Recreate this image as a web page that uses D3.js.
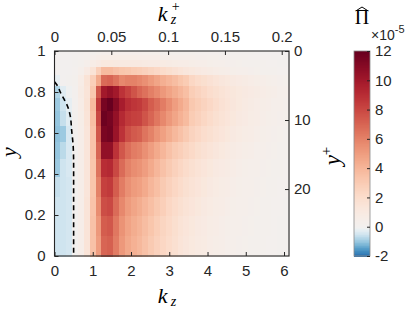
<!DOCTYPE html>
<html><head><meta charset="utf-8">
<script src="https://cdn.jsdelivr.net/npm/d3@7"></script>
<style>body{margin:0;background:#fff}</style>
</head><body><svg id="c" width="415" height="312"></svg>
<script>
// ---- data ----
const kzMax = 6.13;          // right edge of kz grid
const nKz = 40;              // number of kz cells
const reTau = 29.7;          // y+ = (1-y)*reTau, kz+ = kz/reTau
const yEdges = [1,0.995,0.981,0.957,0.924,0.882,0.831,0.773,0.707,0.634,0.556,0.471,0.383,0.290,0.195,0.098,0];
// rows from top (y=1) to bottom (y=0), columns kz from 0 to kzMax; units 1e-5
const values = [
[0,0,0,0,0,0.05,0.1,0.1,0.1,0.1,0.1,0.1,0.1,0.1,0.1,0.1,0.1,0.1,0.1,0.1,0.05,0.05,0.05,0.05,0.05,0.05,0.05,0.05,0.05,0.05,0,0,0,0,0,0,0,0,0,0],
[0,0,0,0,0.05,0.1,0.2,0.25,0.3,0.3,0.3,0.3,0.3,0.3,0.3,0.25,0.25,0.25,0.2,0.2,0.2,0.15,0.15,0.15,0.1,0.1,0.1,0.1,0.05,0.05,0.05,0.05,0.05,0.05,0,0,0,0,0,0],
[0,0,0,0.05,0.1,0.2,0.4,0.55,0.6,0.6,0.6,0.6,0.6,0.6,0.55,0.55,0.5,0.5,0.45,0.45,0.4,0.4,0.35,0.35,0.3,0.3,0.25,0.25,0.2,0.2,0.15,0.15,0.15,0.1,0.1,0.1,0.1,0.05,0.05,0.05],
[0,0,0,0.05,0.15,0.35,0.65,0.9,1.1,1.1,1.05,1.0,1.0,1.0,1.0,0.95,0.9,0.9,0.85,0.8,0.75,0.7,0.65,0.6,0.55,0.5,0.45,0.4,0.35,0.3,0.3,0.25,0.2,0.2,0.15,0.15,0.1,0.1,0.05,0.05],
[0,0,0.02,0.1,0.4,0.9,1.6,2.8,3.8,3.8,3.5,3.3,3.2,3.0,2.9,2.7,2.5,2.3,2.1,1.9,1.7,1.5,1.3,1.15,1.0,0.9,0.8,0.7,0.6,0.5,0.45,0.4,0.35,0.3,0.25,0.2,0.2,0.15,0.1,0.1],
[-0.2,0,0.05,0.2,0.7,1.6,2.8,4.5,6.8,7.0,6.5,5.8,6.0,6.0,5.8,5.5,5.1,4.7,4.3,4.0,3.7,3.3,3.0,2.4,2.1,1.9,1.7,1.5,1.3,1.15,1.0,0.9,0.8,0.7,0.6,0.5,0.45,0.4,0.3,0.25],
[-0.8,-0.3,-0.05,0.1,0.8,1.5,3.2,7.5,10.0,10.5,10.0,8.8,8.2,7.6,7.0,6.6,6.1,5.7,5.2,4.8,4.4,4.0,3.6,2.9,2.6,2.3,2.0,1.8,1.6,1.4,1.25,1.1,1.0,0.9,0.8,0.7,0.6,0.5,0.4,0.35],
[-0.95,-0.5,-0.2,0.1,0.7,1.6,3.8,8.5,11.5,12.0,11.0,9.8,9.0,8.7,8.5,8.0,7.3,6.8,6.2,5.6,5.0,4.5,4.0,3.2,2.9,2.6,2.3,2.0,1.7,1.5,1.3,1.1,0.95,0.8,0.7,0.6,0.5,0.4,0.35,0.3],
[-1.0,-0.6,-0.3,0.05,0.6,1.5,3.6,8.0,11.8,11.5,10.5,9.2,8.5,8.3,8.2,7.6,7.0,6.4,5.8,5.2,4.7,4.2,3.8,3.0,2.7,2.4,2.1,1.8,1.6,1.4,1.2,1.0,0.9,0.75,0.65,0.55,0.45,0.4,0.3,0.25],
[-1.05,-0.95,-0.4,0.05,0.5,1.4,3.4,7.5,11.4,11.6,10.3,8.8,7.8,7.4,7.2,6.5,6.0,5.4,4.9,4.4,3.9,3.5,3.1,2.6,2.3,2.0,1.8,1.6,1.4,1.2,1.0,0.85,0.75,0.65,0.55,0.45,0.4,0.3,0.25,0.2],
[-1.0,-0.7,-0.4,0.05,0.5,1.4,3.4,7.0,10.6,10.6,8.8,7.5,6.7,6.2,6.0,5.5,5.0,4.5,4.0,3.5,3.1,2.8,2.5,2.2,1.9,1.7,1.5,1.3,1.1,0.95,0.8,0.7,0.6,0.5,0.4,0.35,0.3,0.25,0.2,0.15],
[-0.95,-0.5,-0.4,0.05,0.5,1.4,3.3,6.5,9.0,9.2,8.0,6.8,6.0,5.6,5.4,5.0,4.5,4.0,3.5,3.1,2.7,2.4,2.1,1.8,1.6,1.4,1.2,1.0,0.9,0.8,0.65,0.55,0.45,0.4,0.35,0.3,0.25,0.2,0.15,0.1],
[-0.6,-0.5,-0.45,0.05,0.5,1.4,3.3,6.0,8.3,8.5,7.3,6.2,5.5,5.1,4.9,4.5,4.0,3.6,3.1,2.7,2.4,2.1,1.8,1.6,1.4,1.2,1.0,0.85,0.75,0.65,0.55,0.45,0.4,0.35,0.3,0.25,0.2,0.15,0.1,0.1],
[-0.5,-0.5,-0.45,0.05,0.5,1.5,3.4,5.6,7.8,8.0,6.8,5.8,5.1,4.7,4.4,4.0,3.6,3.2,2.8,2.4,2.1,1.8,1.6,1.4,1.2,1.0,0.85,0.75,0.65,0.55,0.45,0.4,0.35,0.3,0.25,0.2,0.15,0.1,0.1,0.05],
[-0.5,-0.5,-0.45,0.05,0.5,1.5,3.5,5.2,7.3,7.5,6.4,5.4,4.8,4.4,4.1,3.7,3.3,2.9,2.5,2.2,1.9,1.6,1.4,1.2,1.0,0.9,0.75,0.65,0.55,0.45,0.4,0.35,0.3,0.25,0.2,0.15,0.15,0.1,0.05,0.05],
[-0.5,-0.5,-0.45,0.05,0.5,1.5,3.5,5.0,7.0,7.2,6.2,5.2,4.6,4.2,3.9,3.5,3.1,2.7,2.4,2.1,1.8,1.5,1.3,1.1,0.95,0.85,0.7,0.6,0.5,0.4,0.35,0.3,0.25,0.2,0.2,0.15,0.1,0.1,0.05,0.05]
];
const boundaryKz = [0, 0.08, 0.15, 0.25, 0.32, 0.41, 0.45, 0.49, 0.5, 0.5];
const boundaryY  = [0.85, 0.83, 0.80, 0.765, 0.74, 0.685, 0.61, 0.53, 0.45, 0];
const xTicks = [0,1,2,3,4,5,6];
const yTicks = [0,0.2,0.4,0.6,0.8,1];
const kzPlusTicks = [0,0.05,0.1,0.15,0.2];
const yPlusTicks = [0,10,20];
const cbTicks = [-2,0,2,4,6,8,10,12];
const cbMin = -2, cbMax = 12;

// ---- layout ----
const L = 54.5, R = 289, T = 51, B = 256;
const svg = d3.select("#c");
const ink = "#262626";
const tickFont = "'Liberation Sans', Arial, sans-serif";
const mathFont = "'Liberation Serif', 'DejaVu Serif', serif";
const tickSize = 15;

const x = d3.scaleLinear().domain([0, kzMax]).range([L, R]);
const y = d3.scaleLinear().domain([0, 1]).range([B, T]);
const xTop = d3.scaleLinear().domain([0, kzMax / reTau]).range([L, R]);
const yRight = d3.scaleLinear().domain([0, reTau]).range([T, B]);

function color(v) {
  if (v >= 0) return d3.interpolateRdBu(0.5 - 0.5 * Math.min(v, cbMax) / cbMax);
  return d3.interpolateRdBu(0.5 + 0.19 * Math.min(-v, -cbMin));
}

const kzEdges = d3.range(nKz + 1).map(i => i * kzMax / nKz);

// heatmap
const cells = [];
values.forEach((row, i) => row.forEach((v, j) => cells.push({i, j, v})));
svg.append("g").attr("shape-rendering", "crispEdges")
  .selectAll("rect").data(cells).join("rect")
  .attr("x", d => x(kzEdges[d.j]))
  .attr("width", d => x(kzEdges[d.j + 1]) - x(kzEdges[d.j]) + 0.5)
  .attr("y", d => y(yEdges[d.i]))
  .attr("height", d => y(yEdges[d.i + 1]) - y(yEdges[d.i]) + 0.5)
  .attr("fill", d => color(d.v));

// clip
svg.append("clipPath").attr("id", "pc").append("rect")
  .attr("x", L).attr("y", T).attr("width", R - L).attr("height", B - T);

// dashed boundary
const bpts = boundaryKz.map((k, i) => [k, boundaryY[i]]);
svg.append("path").attr("clip-path", "url(#pc)")
  .attr("d", d3.line().x(d => x(d[0])).y(d => y(d[1])).curve(d3.curveMonotoneY)(bpts))
  .attr("fill", "none").attr("stroke", "#000").attr("stroke-width", 1.6)
  .attr("stroke-dasharray", "5,3.5");

// axes
function styleAxis(g) {
  g.select(".domain").remove();
  g.selectAll("line").attr("stroke", ink);
  g.selectAll("text").attr("fill", ink).attr("font-family", tickFont).attr("font-size", tickSize);
}
svg.append("g").attr("transform", `translate(0,${B})`)
  .call(d3.axisBottom(x).tickValues(xTicks).tickFormat(d => String(d)).tickSize(-4).tickPadding(9))
  .call(styleAxis);
svg.append("g").attr("transform", `translate(${L},0)`)
  .call(d3.axisLeft(y).tickValues(yTicks).tickFormat(d => String(d)).tickSize(-4).tickPadding(9))
  .call(styleAxis);
svg.append("g").attr("transform", `translate(0,${T})`)
  .call(d3.axisTop(xTop).tickValues(kzPlusTicks).tickFormat(d => String(d)).tickSize(-4).tickPadding(9))
  .call(styleAxis);
svg.append("g").attr("transform", `translate(${R},0)`)
  .call(d3.axisRight(yRight).tickValues(yPlusTicks).tickFormat(d => String(d)).tickSize(-4).tickPadding(5))
  .call(styleAxis);

// box
svg.append("rect").attr("x", L).attr("y", T).attr("width", R - L).attr("height", B - T)
  .attr("fill", "none").attr("stroke", ink).attr("stroke-width", 1.1);

// axis titles
const midX = (L + R) / 2;
function kz(g, cx, base, sup) {
  const t = g.append("text").attr("font-family", mathFont).attr("fill", "#000").attr("font-style", "italic");
  t.append("tspan").attr("x", cx - 14).attr("y", base).attr("font-size", 22).text("k");
  t.append("tspan").attr("x", cx - 1).attr("y", base + 3).attr("font-size", 14).text("z");
  if (sup) g.append("text").attr("font-family", mathFont).attr("fill", "#000")
    .attr("x", cx).attr("y", base - 10).attr("font-size", 14).text("+");
}
kz(svg, midX, 21, true);
kz(svg, midX, 303, false);

svg.append("text").attr("transform", `translate(16,152) rotate(-90)`)
  .attr("text-anchor", "middle").attr("font-family", mathFont).attr("font-style", "italic")
  .attr("font-size", 22).text("y");
const yp = svg.append("text").attr("transform", `translate(340,156) rotate(-90)`)
  .attr("text-anchor", "middle").attr("font-family", mathFont);
yp.append("tspan").attr("font-style", "italic").attr("font-size", 23).text("y");
yp.append("tspan").attr("font-size", 15).attr("dy", -9).text("+");

// colorbar
const cbL = 354, cbR = 370;
const cy = d3.scaleLinear().domain([cbMin, cbMax]).range([B, T]);
const steps = d3.range(cbMin, cbMax, 0.05);
svg.append("g").attr("shape-rendering", "crispEdges").selectAll("rect").data(steps).join("rect")
  .attr("x", cbL).attr("width", cbR - cbL)
  .attr("y", d => cy(d + 0.05)).attr("height", d => cy(d) - cy(d + 0.05) + 0.5)
  .attr("fill", d => color(d + 0.025));
svg.append("rect").attr("x", cbL).attr("y", T).attr("width", cbR - cbL).attr("height", B - T)
  .attr("fill", "none").attr("stroke", "#8a8a8a").attr("stroke-width", 0.8);
svg.append("g").attr("transform", `translate(${cbR},0)`)
  .call(d3.axisRight(cy).tickValues(cbTicks).tickFormat(d => String(d)).tickSize(-3).tickPadding(5))
  .call(styleAxis);

// exponent
const ex = svg.append("text").attr("x", 371).attr("y", 40).attr("font-family", tickFont)
  .attr("fill", ink).attr("font-size", 14);
ex.append("tspan").text("×10");
ex.append("tspan").attr("dy", -7).attr("font-size", 11).text("-5");

// colorbar title: hat Pi
const pi = svg.append("text").attr("x", 362).attr("y", 24).attr("text-anchor", "middle")
  .attr("font-family", mathFont).attr("font-size", 20).text("Π");
const bb = pi.node().getBBox();
svg.append("path")
  .attr("d", `M${bb.x + 1},${bb.y + 5} L${bb.x + bb.width / 2},${bb.y + 1} L${bb.x + bb.width - 1},${bb.y + 5}`)
  .attr("fill", "none").attr("stroke", "#000").attr("stroke-width", 1);
</script>
</body></html>
